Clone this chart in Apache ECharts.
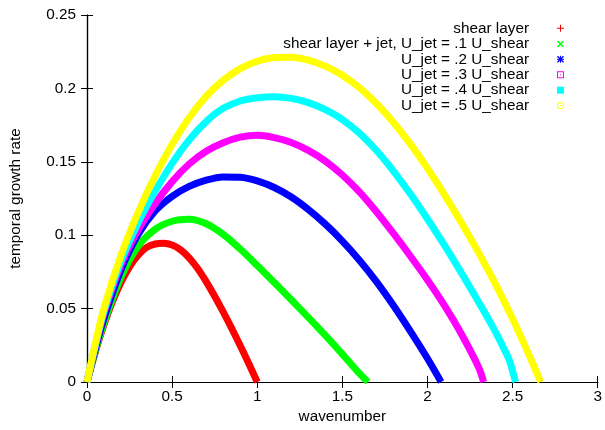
<!DOCTYPE html>
<html>
<head>
<meta charset="utf-8">
<script src="https://cdn.jsdelivr.net/npm/echarts@6/dist/echarts.min.js"></script>
<style>
html,body{margin:0;padding:0;background:#fff;}
#chart{width:605px;height:430px;}
</style>
</head>
<body>
<div id="chart"></div>
<script>
// ---- data ----
const seriesNames = [
  'shear layer',
  'shear layer + jet, U_jet = .1 U_shear',
  'U_jet = .2 U_shear',
  'U_jet = .3 U_shear',
  'U_jet = .4 U_shear',
  'U_jet = .5 U_shear'
];
const seriesColors = ['#ff0000', '#00ff00', '#0000ff', '#ff00ff', '#00ffff', '#ffff00'];

const kShear = [0,0.05,0.1,0.15,0.2,0.25,0.3,0.35,0.4,0.45,0.5,0.55,0.6,0.65,0.7,0.75,0.8,0.85,0.9,0.95,1.0];
const gShear = [0,0.0209,0.0392,0.0549,0.068,0.0785,0.0864,0.0917,0.0940,0.0945,0.0933,0.0900,0.0846,0.0773,0.0684,0.0584,0.0477,0.0365,0.0248,0.0126,0];

const kJet1 = [0,0.05,0.1,0.2,0.3,0.4,0.5,0.6,0.7,0.8,0.9,1.0,1.1,1.2,1.3,1.4,1.5,1.6,1.65];
const gJet1 = [0,0.0215,0.0405,0.0715,0.0925,0.1040,0.1095,0.1108,0.1078,0.1006,0.0906,0.0794,0.0678,0.0560,0.0440,0.0317,0.0190,0.0058,0];

const kJet2 = [0,0.05,0.1,0.2,0.3,0.4,0.5,0.6,0.7,0.8,0.9,1.0,1.1,1.2,1.3,1.4,1.5,1.6,1.7,1.8,1.9,2.0,2.08];
const gJet2 = [0,0.023,0.0435,0.0765,0.1005,0.1165,0.1265,0.1332,0.1375,0.1397,0.1395,0.1370,0.1325,0.1260,0.1175,0.1075,0.0960,0.0830,0.0684,0.0521,0.0345,0.0160,0];

const kJet3 = [0,0.05,0.1,0.2,0.3,0.4,0.5,0.6,0.7,0.8,0.9,1.0,1.1,1.2,1.3,1.4,1.5,1.6,1.7,1.8,1.9,2.0,2.1,2.2,2.3,2.33];
const gJet3 = [0,0.025,0.047,0.080,0.1035,0.1215,0.1365,0.1485,0.1572,0.1630,0.1668,0.1681,0.1665,0.1632,0.1578,0.1505,0.1410,0.1295,0.1160,0.1012,0.0857,0.0695,0.0520,0.0325,0.0100,0];

const kJet4 = [0,0.05,0.1,0.2,0.3,0.4,0.5,0.6,0.7,0.8,0.9,1.0,1.1,1.2,1.3,1.4,1.5,1.6,1.7,1.8,1.9,2.0,2.1,2.2,2.3,2.35,2.4,2.45,2.48,2.517];
const gJet4 = [0,0.0256,0.0484,0.0824,0.1084,0.1299,0.1489,0.1649,0.1774,0.1864,0.1914,0.1936,0.1943,0.1932,0.1903,0.1855,0.1788,0.1695,0.1577,0.1437,0.1280,0.1110,0.0930,0.0742,0.0545,0.0445,0.0340,0.0225,0.0150,0];

const kJet5 = [0,0.05,0.1,0.2,0.3,0.4,0.5,0.6,0.7,0.8,0.9,1.0,1.1,1.2,1.3,1.4,1.5,1.6,1.7,1.8,1.9,2.0,2.1,2.2,2.3,2.4,2.5,2.6,2.665];
const gJet5 = [0,0.0266,0.0504,0.0864,0.1154,0.1404,0.1619,0.1800,0.1945,0.2055,0.2135,0.2185,0.2210,0.2213,0.2193,0.2152,0.2090,0.2005,0.1897,0.1768,0.1620,0.1455,0.1275,0.1083,0.0881,0.0665,0.0430,0.0175,0];

const xTicks = [0, 0.5, 1, 1.5, 2, 2.5, 3];
const yTicks = [0, 0.05, 0.1, 0.15, 0.2, 0.25];

// ---- build ----
const kArrays = [kShear, kJet1, kJet2, kJet3, kJet4, kJet5];
const gArrays = [gShear, gJet1, gJet2, gJet3, gJet4, gJet5];

const legendIcons = [
  'path://M3,0h1v7h-1zM0,3h7v1h-7z',
  'path://M0,1L1,0L7,6L6,7ZM6,0L7,1L1,7L0,6Z',
  'path://M3,0h1v7h-1zM0,3h7v1h-7zM0,1L1,0L7,6L6,7ZM6,0L7,1L1,7L0,6Z',
  'path://M0,0H7V7H0ZM1,1V6H6V1ZM3,3H4V4H3Z',
  'path://M0,0H7V7H0Z',
  'path://M3.5,0A3.5,3.5 0 1 1 3.5,7A3.5,3.5 0 1 1 3.5,0ZM3.5,1A2.5,2.5 0 1 0 3.5,6A2.5,2.5 0 1 0 3.5,1ZM3,3h1v1h-1z'
];
const legendCenters = [28.3, 44, 59.3, 74.8, 90.2, 105.5];

const FONT = 'Liberation Sans, Arial, Helvetica, sans-serif';
const FS = 15.3;

const series = seriesNames.map((name, i) => ({
  name: name,
  type: 'line',
  data: kArrays[i].map((k, j) => [k, gArrays[i][j]]),
  smooth: 0.3,
  showSymbol: false,
  symbol: 'none',
  color: seriesColors[i],
  lineStyle: { width: 7, color: seriesColors[i], join: 'round' },
  z: 2 + i,
  animation: false
}));

const legends = seriesNames.map((name, i) => ({
  data: [{ name: name, icon: legendIcons[i] }],
  right: 41,
  top: legendCenters[i] - 9,
  align: 'right',
  orient: 'vertical',
  itemWidth: 7,
  itemHeight: 7,
  padding: 0,
  selectedMode: false,
  textStyle: { fontFamily: FONT, fontSize: FS, color: '#000', padding: [0, 23, 0, 0], lineHeight: 18 }
}));

const tickStyle = { show: true, inside: true, length: 6, lineStyle: { color: '#000', width: 1 } };
const lineStyle = { show: true, lineStyle: { color: '#000', width: 1.2 } };

const option = {
  backgroundColor: '#fff',
  animation: false,
  textStyle: { fontFamily: FONT },
  grid: { left: 87, right: 5, top: 15, bottom: 48, containLabel: false },
  legend: legends,
  xAxis: [
    {
      type: 'value', min: xTicks[0], max: xTicks[xTicks.length - 1], interval: 0.5,
      position: 'bottom',
      name: 'wavenumber', nameLocation: 'middle', nameGap: 19,
      nameTextStyle: { fontFamily: FONT, fontSize: FS, color: '#000' },
      axisLine: lineStyle, axisTick: tickStyle,
      axisLabel: { fontFamily: FONT, fontSize: FS, color: '#000', margin: 7, showMaxLabel: true, showMinLabel: true },
      splitLine: { show: false }
    },
    {
      type: 'value', min: xTicks[0], max: xTicks[xTicks.length - 1], interval: 0.5,
      position: 'top',
      axisLine: lineStyle, axisTick: tickStyle,
      axisLabel: { show: false }, splitLine: { show: false }
    }
  ],
  yAxis: [
    {
      type: 'value', min: yTicks[0], max: yTicks[yTicks.length - 1], interval: 0.05,
      position: 'left',
      name: 'temporal growth rate', nameLocation: 'middle', nameGap: 64,
      nameTextStyle: { fontFamily: FONT, fontSize: FS, color: '#000' },
      axisLine: lineStyle, axisTick: tickStyle,
      axisLabel: { fontFamily: FONT, fontSize: FS, color: '#000', margin: 11 },
      splitLine: { show: false }
    },
    {
      type: 'value', min: yTicks[0], max: yTicks[yTicks.length - 1], interval: 0.05,
      position: 'right',
      axisLine: lineStyle, axisTick: tickStyle,
      axisLabel: { show: false }, splitLine: { show: false }
    }
  ],
  series: series
};

const chart = echarts.init(document.getElementById('chart'), null, { renderer: 'canvas' });
chart.setOption(option);
</script>
</body>
</html>
